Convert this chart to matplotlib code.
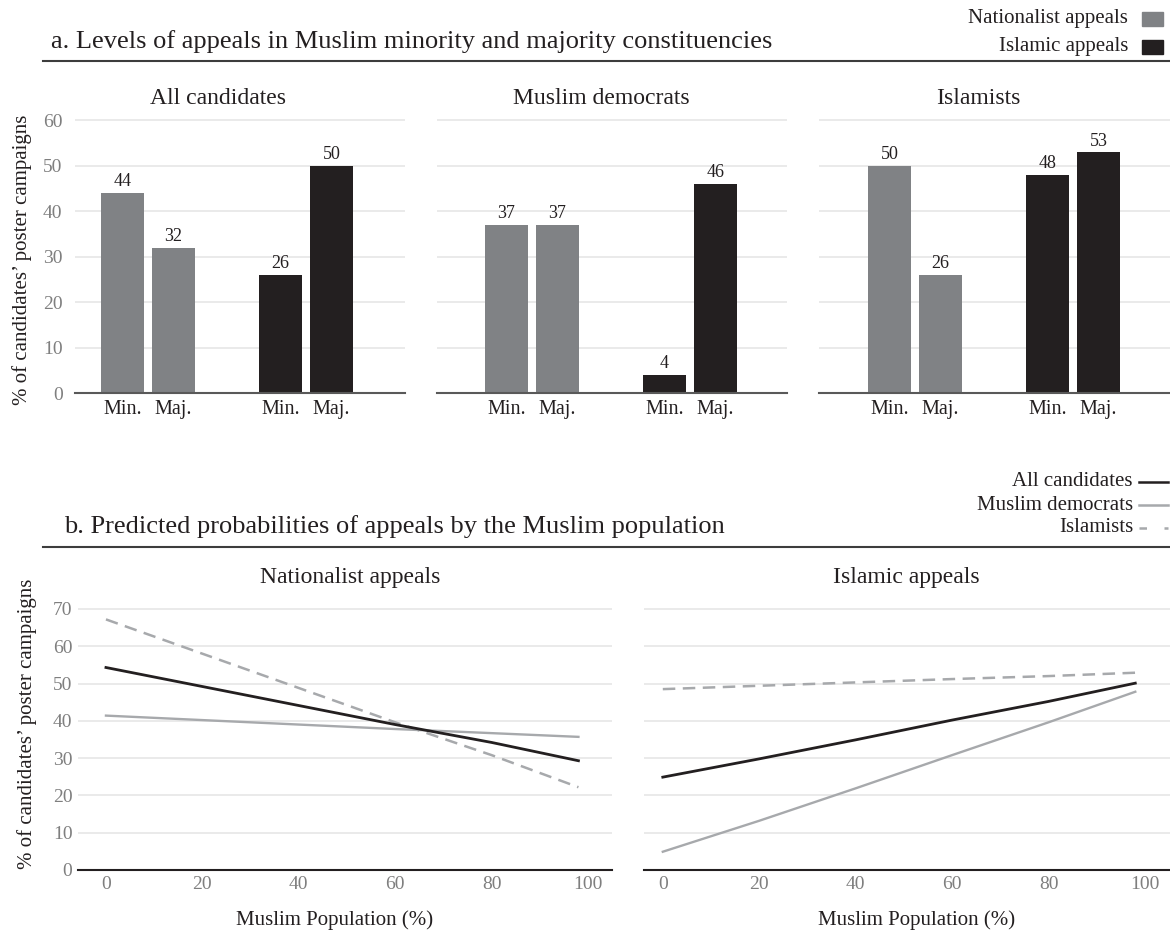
import matplotlib
matplotlib.use('Agg')
import matplotlib.pyplot as plt
from matplotlib.lines import Line2D
from matplotlib.patches import Rectangle

plt.rcParams['font.family'] = ['Liberation Serif', 'DejaVu Serif']

# panel a: % of poster campaigns with each appeal, Muslim minority vs majority seats
groups = ['All candidates', 'Muslim democrats', 'Islamists']
seat_labels = ['Min.', 'Maj.', 'Min.', 'Maj.']
nationalist_min = [44, 37, 50]
nationalist_maj = [32, 37, 26]
islamic_min = [26, 4, 48]
islamic_maj = [50, 46, 53]

# panel b: predicted probabilities (%) by Muslim population share
muslim_pop = [0, 20, 40, 60, 80, 98]
nat_all = [54.3, 49.2, 44.1, 39.0, 34.2, 29.3]
nat_md = [41.4, 40.2, 39.0, 37.8, 36.7, 35.7]
nat_isl = [67.2, 58.0, 48.8, 39.6, 30.8, 22.2]
isl_all = [24.9, 29.8, 34.9, 40.2, 45.2, 50.1]
isl_md = [4.9, 13.2, 21.9, 30.8, 39.6, 47.8]
isl_isl = [48.5, 49.4, 50.3, 51.2, 52.0, 52.9]

BAR_GRAY = '#808285'
DARK = '#231f20'
LINE_GRAY = '#a7a9ac'
TICK_GRAY = '#7f7f7f'
GRID = '#e8e8e8'

W, H = 1170, 932
fig = plt.figure(figsize=(W / 100, H / 100), dpi=100)


def box(l, t, r, b):
    return [l / W, 1 - b / H, (r - l) / W, (b - t) / H]


def ftext(x, y, s, **kw):
    fig.text(x / W, 1 - y / H, s, **kw)


def fline(x0, x1, y, **kw):
    fig.add_artist(Line2D([x0 / W, x1 / W], [1 - y / H, 1 - y / H], **kw))


# ---- panel a ----
ftext(51, 42, 'a. Levels of appeals in Muslim minority and majority constituencies',
      fontsize=19, va='center', color=DARK)
fline(43, 1170, 61, color='#3d3d3d', lw=1.5)

ftext(1128, 19, 'Nationalist appeals', fontsize=15, ha='right', va='center', color=DARK)
ftext(1128, 47, 'Islamic appeals', fontsize=15, ha='right', va='center', color=DARK)
for y0, c in [(12, BAR_GRAY), (40.5, DARK)]:
    fig.add_artist(Rectangle((1142 / W, 1 - (y0 + 13.5) / H), 21 / W, 13.5 / H,
                             color=c, transform=fig.transFigure))

pos = [0, 1, 3.1, 4.1]
bar_edges = [(75, 405), (437, 787), (819, 1170)]
bar_xlims = [(-0.93, 5.54), (-1.36, 5.5), (-1.38, 5.5)]
title_x = [218, 601, 978]

for i, g in enumerate(groups):
    ax = fig.add_axes(box(bar_edges[i][0], 110, bar_edges[i][1], 393.3))
    b1 = ax.bar(pos[:2], [nationalist_min[i], nationalist_maj[i]], width=0.84,
                color=BAR_GRAY, zorder=3)
    b2 = ax.bar(pos[2:], [islamic_min[i], islamic_maj[i]], width=0.84,
                color=DARK, zorder=3)
    for bars in (b1, b2):
        ax.bar_label(bars, padding=2, fontsize=13, color=DARK)
    ax.set_ylim(0, 62.3)
    ax.set_xlim(*bar_xlims[i])
    ax.set_yticks(range(0, 70, 10))
    ax.grid(axis='y', color=GRID, lw=1.3, zorder=0)
    for s in ['top', 'right', 'left']:
        ax.spines[s].set_visible(False)
    ax.spines['bottom'].set_color('#595959')
    ax.spines['bottom'].set_linewidth(1.5)
    ax.spines['bottom'].set_zorder(4)
    ax.set_xticks(pos)
    ax.set_xticklabels(seat_labels, fontsize=14.5, color=DARK)
    ax.tick_params(axis='x', length=0, pad=5)
    ax.tick_params(axis='y', length=0, pad=9, labelsize=14, labelcolor=TICK_GRAY)
    if i > 0:
        ax.tick_params(axis='y', labelleft=False)
    ftext(title_x[i], 98, g, fontsize=17, ha='center', va='center', color=DARK)

ftext(22, 260, '% of candidates’ poster campaigns', fontsize=15, rotation=90,
      ha='center', va='center', color=DARK)

# ---- panel b ----
ftext(64, 527, 'b. Predicted probabilities of appeals by the Muslim population',
      fontsize=19, va='center', color=DARK)
fline(43, 1170, 547, color='#3d3d3d', lw=1.5)

leg = [('All candidates', DARK, '-', 482),
       ('Muslim democrats', LINE_GRAY, '-', 505),
       ('Islamists', LINE_GRAY, '--', 528)]
for name, c, ls, y in leg:
    ftext(1133, y, name, fontsize=15, ha='right', va='center', color=DARK)
    ln = Line2D([1139 / W, 1168 / W], [1 - y / H, 1 - y / H], color=c, lw=1.8,
                transform=fig.transFigure)
    if ls == '--':
        ln.set_dashes((3, 7))
    fig.add_artist(ln)

line_edges = [(78, 611.7), (644, 1170)]
line_xlims = [(-5.8, 104.9), (-3.9, 105.2)]
panels = [('Nationalist appeals', nat_all, nat_md, nat_isl, 350, 335),
          ('Islamic appeals', isl_all, isl_md, isl_isl, 906, 917)]

for i, (name, y_all, y_md, y_isl, tx, lx) in enumerate(panels):
    ax = fig.add_axes(box(line_edges[i][0], 600, line_edges[i][1], 870))
    ax.plot(muslim_pop, y_isl, color=LINE_GRAY, lw=1.8, dashes=(5, 3), zorder=3)
    ax.plot(muslim_pop, y_md, color=LINE_GRAY, lw=1.7, zorder=3)
    ax.plot(muslim_pop, y_all, color=DARK, lw=2.0, zorder=4)
    ax.set_ylim(0, 72.4)
    ax.set_xlim(*line_xlims[i])
    ax.set_yticks(range(0, 80, 10))
    ax.set_xticks(range(0, 120, 20))
    ax.grid(axis='y', color=GRID, lw=1.3, zorder=0)
    for s in ['top', 'right', 'left']:
        ax.spines[s].set_visible(False)
    ax.spines['bottom'].set_color(DARK)
    ax.spines['bottom'].set_linewidth(1.5)
    ax.tick_params(length=0, labelsize=14, labelcolor=TICK_GRAY)
    ax.tick_params(axis='x', pad=4)
    ax.tick_params(axis='y', pad=4)
    if i > 0:
        ax.tick_params(axis='y', labelleft=False)
    ftext(tx, 578, name, fontsize=17, ha='center', va='center', color=DARK)
    ftext(lx, 920, 'Muslim Population (%)', fontsize=15, ha='center', va='center',
          color=DARK)

ftext(27, 724, '% of candidates’ poster campaigns', fontsize=15, rotation=90,
      ha='center', va='center', color=DARK)

fig.savefig('out.png', dpi=100)
